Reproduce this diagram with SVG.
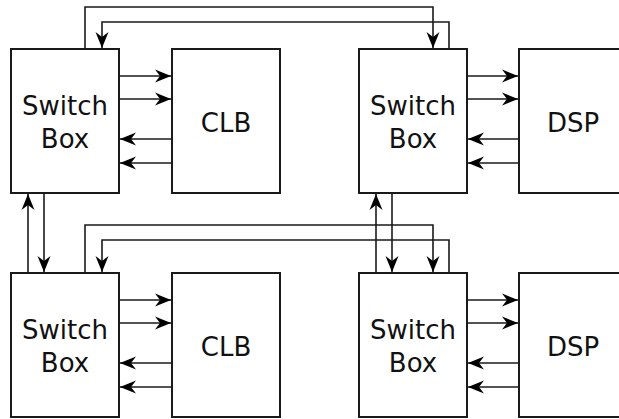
<svg xmlns="http://www.w3.org/2000/svg" width="619" height="419" viewBox="0 0 619 419">
<style>
.box{fill:#fff;stroke:#1a1a1a;stroke-width:2}
.w{fill:none;stroke:#1a1a1a;stroke-width:1.6}
.a{marker-end:url(#ah)}
text{font-family:"DejaVu Sans","Open Sans",sans-serif;font-size:26px;fill:#111;text-anchor:middle}
</style>
<defs>
<marker id="ah" markerUnits="userSpaceOnUse" markerWidth="18" markerHeight="16" viewBox="-17 -8 18 16" refX="0" refY="0" orient="auto">
<path d="M0,0 L-16,-6.5 L-11,0 L-16,6.5 Z" fill="#000"/>
</marker>
</defs>
<rect width="619" height="419" fill="#fff"/>
<g id="connectors">
<path class="w a" d="M85,49 V7 H433 V48"/>
<path class="w a" d="M449,49 V22 H102 V48"/>
<path class="w a" d="M85,273 V225 H433 V272"/>
<path class="w a" d="M449,273 V240 H102 V272"/>
<path class="w a" d="M28,273 V194"/>
<path class="w a" d="M44,193 V272"/>
<path class="w a" d="M376,273 V194"/>
<path class="w a" d="M392,193 V272"/>
<path class="w a" d="M119,76 H171"/>
<path class="w a" d="M119,99 H171"/>
<path class="w a" d="M172,139 H120"/>
<path class="w a" d="M172,163 H120"/>
<path class="w a" d="M467,76 H518"/>
<path class="w a" d="M467,99 H518"/>
<path class="w a" d="M519,139 H468"/>
<path class="w a" d="M519,163 H468"/>
<path class="w a" d="M119,300 H171"/>
<path class="w a" d="M119,323 H171"/>
<path class="w a" d="M172,363 H120"/>
<path class="w a" d="M172,387 H120"/>
<path class="w a" d="M467,300 H518"/>
<path class="w a" d="M467,323 H518"/>
<path class="w a" d="M519,363 H468"/>
<path class="w a" d="M519,387 H468"/>
</g>
<g id="sb1"><rect class="box" x="11" y="49" width="108" height="144"/><text x="65" y="115">Switch</text><text x="65" y="148">Box</text></g>
<g id="clb1"><rect class="box" x="172" y="49" width="108" height="144"/><text x="226" y="132">CLB</text></g>
<g id="sb2"><rect class="box" x="359" y="49" width="108" height="144"/><text x="413" y="115">Switch</text><text x="413" y="148">Box</text></g>
<g id="dsp1"><rect class="box" x="519" y="49" width="110" height="144"/><text x="573" y="132">DSP</text></g>
<g id="sb3"><rect class="box" x="11" y="273" width="108" height="144"/><text x="65" y="339">Switch</text><text x="65" y="372">Box</text></g>
<g id="clb2"><rect class="box" x="172" y="273" width="108" height="144"/><text x="226" y="356">CLB</text></g>
<g id="sb4"><rect class="box" x="359" y="273" width="108" height="144"/><text x="413" y="339">Switch</text><text x="413" y="372">Box</text></g>
<g id="dsp2"><rect class="box" x="519" y="273" width="110" height="144"/><text x="573" y="356">DSP</text></g>
</svg>
